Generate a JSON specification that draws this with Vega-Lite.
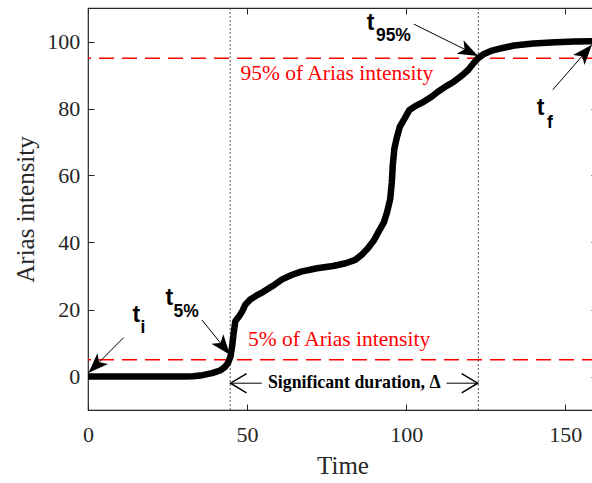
{
  "$schema": "https://vega.github.io/schema/vega-lite/v6.json",
  "width": 509,
  "height": 402,
  "autosize": {"type": "none"},
  "padding": {"left": 88, "top": 8, "right": 0, "bottom": 73},
  "background": "white",
  "config": {
    "view": {"stroke": "#262626", "strokeWidth": 1.2},
    "axis": {
      "labelFont": "Liberation Serif",
      "titleFont": "Liberation Serif",
      "labelColor": "#262626",
      "titleColor": "#262626",
      "tickColor": "#262626",
      "domain": false,
      "grid": false,
      "tickSize": -6,
      "labelFlush": false,
      "labelOverlap": false,
      "labelFontSize": 22,
      "titleFontSize": 25,
      "titleFontWeight": "normal"
    }
  },
  "datasets": {
    "arias": [
      {"time": 0, "ia": 0}, {"time": 10, "ia": 0}, {"time": 20, "ia": 0}, {"time": 30, "ia": 0},
      {"time": 33, "ia": 0.1}, {"time": 36, "ia": 0.4}, {"time": 39, "ia": 1.0}, {"time": 41.5, "ia": 1.8},
      {"time": 43, "ia": 2.8}, {"time": 44, "ia": 4}, {"time": 44.8, "ia": 6}, {"time": 45.3, "ia": 9},
      {"time": 45.8, "ia": 13}, {"time": 46.3, "ia": 16.5}, {"time": 47.5, "ia": 18}, {"time": 48.5, "ia": 19.5},
      {"time": 49.5, "ia": 21.5}, {"time": 51, "ia": 23}, {"time": 53, "ia": 24.2}, {"time": 55, "ia": 25.2},
      {"time": 58, "ia": 27}, {"time": 61, "ia": 29}, {"time": 64, "ia": 30.3}, {"time": 67, "ia": 31.3},
      {"time": 72, "ia": 32.3}, {"time": 77, "ia": 33}, {"time": 81, "ia": 33.8}, {"time": 84, "ia": 34.8},
      {"time": 86, "ia": 36.3}, {"time": 88, "ia": 38.3}, {"time": 90, "ia": 40.8}, {"time": 91.5, "ia": 43.5},
      {"time": 93, "ia": 46}, {"time": 94, "ia": 49}, {"time": 95, "ia": 53}, {"time": 95.5, "ia": 58},
      {"time": 95.8, "ia": 63}, {"time": 96.3, "ia": 68}, {"time": 97, "ia": 71}, {"time": 98, "ia": 74.5},
      {"time": 99.5, "ia": 77}, {"time": 101, "ia": 79.5}, {"time": 103, "ia": 80.8}, {"time": 105.5, "ia": 82},
      {"time": 108, "ia": 83.5}, {"time": 110, "ia": 85}, {"time": 112.5, "ia": 86.6}, {"time": 115, "ia": 88},
      {"time": 117.5, "ia": 89.8}, {"time": 119.5, "ia": 91.5}, {"time": 121, "ia": 93.3}, {"time": 122.6, "ia": 95},
      {"time": 124.5, "ia": 96.3}, {"time": 127, "ia": 97.3}, {"time": 130, "ia": 98}, {"time": 134, "ia": 98.8},
      {"time": 140, "ia": 99.4}, {"time": 147, "ia": 99.8}, {"time": 153, "ia": 100}, {"time": 160, "ia": 100.1}
    ],
    "thresholds": [{"level": 5}, {"level": 95}],
    "bounds": [{"t": 44.7}, {"t": 122.7}],
    "segments": [
      {"x": 11.2, "y": 11.6, "x2": 0.2, "y2": 1.1},
      {"x": 35.8, "y": 16.9, "x2": 44.6, "y2": 6.5},
      {"x": 102.4, "y": 105.2, "x2": 122.6, "y2": 95.7},
      {"x": 146.1, "y": 85.6, "x2": 158.4, "y2": 99},
      {"x": 54.6, "y": -2, "x2": 44.8, "y2": -2},
      {"x": 112.7, "y": -2, "x2": 122.5, "y2": -2}
    ],
    "heads": [
      {"x": 0.2, "y": 1.1, "angle": 225},
      {"x": 44.6, "y": 6.5, "angle": 141.3},
      {"x": 122.6, "y": 95.7, "angle": 116.6},
      {"x": 158.4, "y": 99, "angle": 40.9}
    ],
    "openHeads": [
      {"x": 44.8, "y": -2, "angle": 0},
      {"x": 122.5, "y": -2, "angle": 180}
    ],
    "redLabels": [
      {"x": 47.9, "y": 88.6, "text": "95% of Arias intensity"},
      {"x": 50.3, "y": 9.0, "text": "5% of Arias intensity"}
    ],
    "duration": [{"x": 83.7, "y": -3.5, "text": "Significant duration, Δ"}],
    "tMain": [
      {"x": 14.0, "y": 16.3, "text": "t"},
      {"x": 24.4, "y": 21.2, "text": "t"},
      {"x": 87.6, "y": 103.5, "text": "t"},
      {"x": 141.1, "y": 78.1, "text": "t"}
    ],
    "tSub": [
      {"x": 16.5, "y": 13.0, "text": "i"},
      {"x": 26.9, "y": 17.9, "text": "5%"},
      {"x": 90.5, "y": 100.2, "text": "95%"},
      {"x": 144.3, "y": 74.2, "text": "f"}
    ]
  },
  "layer": [
    {
      "data": {"name": "thresholds"},
      "mark": {"type": "rule", "color": "#ff0000", "strokeWidth": 1.5, "strokeDash": [15, 8]},
      "encoding": {
        "y": {"field": "level", "type": "quantitative", "scale": {"domain": [-10, 110], "nice": false, "zero": false}, "axis": null}
      }
    },
    {
      "data": {"name": "bounds"},
      "mark": {"type": "rule", "color": "#555555", "strokeWidth": 1, "strokeDash": [2, 2]},
      "encoding": {
        "x": {"field": "t", "type": "quantitative", "scale": {"domain": [0, 160], "nice": false, "zero": false}, "axis": null}
      }
    },
    {
      "data": {"name": "arias"},
      "mark": {"type": "line", "color": "black", "strokeWidth": 6.5, "strokeJoin": "round"},
      "encoding": {
        "x": {
          "field": "time", "type": "quantitative",
          "scale": {"domain": [0, 160], "nice": false, "zero": false},
          "axis": {"orient": "bottom", "values": [0, 50, 100, 150], "title": "Time", "labelBaseline": "alphabetic", "labelPadding": 37.7, "titleBaseline": "alphabetic", "titleY": 63}
        },
        "y": {
          "field": "ia", "type": "quantitative",
          "scale": {"domain": [-10, 110], "nice": false, "zero": false},
          "axis": {"orient": "left", "values": [0, 20, 40, 60, 80, 100], "title": "Arias intensity", "labelBaseline": "middle", "labelPadding": 14.3, "titleAngle": -90, "titleBaseline": "alphabetic", "titleAlign": "center", "titleX": -55, "titleY": 201}
        }
      }
    },
    {
      "data": {"name": "segments"},
      "mark": {"type": "rule", "color": "black", "strokeWidth": 1},
      "encoding": {
        "x": {
          "field": "x", "type": "quantitative",
          "scale": {"domain": [0, 160], "nice": false, "zero": false},
          "axis": {"orient": "top", "values": [0, 50, 100, 150], "labels": false, "title": null}
        },
        "y": {
          "field": "y", "type": "quantitative",
          "scale": {"domain": [-10, 110], "nice": false, "zero": false},
          "axis": {"orient": "right", "values": [0, 20, 40, 60, 80, 100], "labels": false, "title": null}
        },
        "x2": {"field": "x2"},
        "y2": {"field": "y2"}
      }
    },
    {
      "data": {"name": "heads"},
      "mark": {"type": "point", "shape": "M0,0 L0.38,1 L0,0.75 L-0.38,1 Z", "size": 1600, "filled": true, "color": "black", "opacity": 1},
      "encoding": {
        "x": {"field": "x", "type": "quantitative", "axis": null},
        "y": {"field": "y", "type": "quantitative", "axis": null},
        "angle": {"field": "angle", "type": "quantitative", "scale": null}
      }
    },
    {
      "data": {"name": "openHeads"},
      "mark": {"type": "point", "shape": "M1,-0.6 L0,0 L1,0.6", "size": 1024, "filled": false, "stroke": "black", "strokeWidth": 1.5, "opacity": 1},
      "encoding": {
        "x": {"field": "x", "type": "quantitative", "axis": null},
        "y": {"field": "y", "type": "quantitative", "axis": null},
        "angle": {"field": "angle", "type": "quantitative", "scale": null}
      }
    },
    {
      "data": {"name": "redLabels"},
      "mark": {"type": "text", "font": "Liberation Serif", "fontSize": 21.5, "color": "#ff0000", "align": "left", "baseline": "alphabetic"},
      "encoding": {
        "x": {"field": "x", "type": "quantitative", "axis": null},
        "y": {"field": "y", "type": "quantitative", "axis": null},
        "text": {"field": "text"}
      }
    },
    {
      "data": {"name": "duration"},
      "mark": {"type": "text", "font": "Liberation Serif", "fontSize": 17.8, "fontWeight": "bold", "color": "black", "align": "center", "baseline": "alphabetic"},
      "encoding": {
        "x": {"field": "x", "type": "quantitative", "axis": null},
        "y": {"field": "y", "type": "quantitative", "axis": null},
        "text": {"field": "text"}
      }
    },
    {
      "data": {"name": "tMain"},
      "mark": {"type": "text", "font": "Liberation Sans", "fontSize": 23, "fontWeight": "bold", "color": "black", "align": "left", "baseline": "alphabetic"},
      "encoding": {
        "x": {"field": "x", "type": "quantitative", "axis": null},
        "y": {"field": "y", "type": "quantitative", "axis": null},
        "text": {"field": "text"}
      }
    },
    {
      "data": {"name": "tSub"},
      "mark": {"type": "text", "font": "Liberation Sans", "fontSize": 17.5, "fontWeight": "bold", "color": "black", "align": "left", "baseline": "alphabetic"},
      "encoding": {
        "x": {"field": "x", "type": "quantitative", "axis": null},
        "y": {"field": "y", "type": "quantitative", "axis": null},
        "text": {"field": "text"}
      }
    }
  ],
  "resolve": {"axis": {"x": "independent", "y": "independent"}}
}
